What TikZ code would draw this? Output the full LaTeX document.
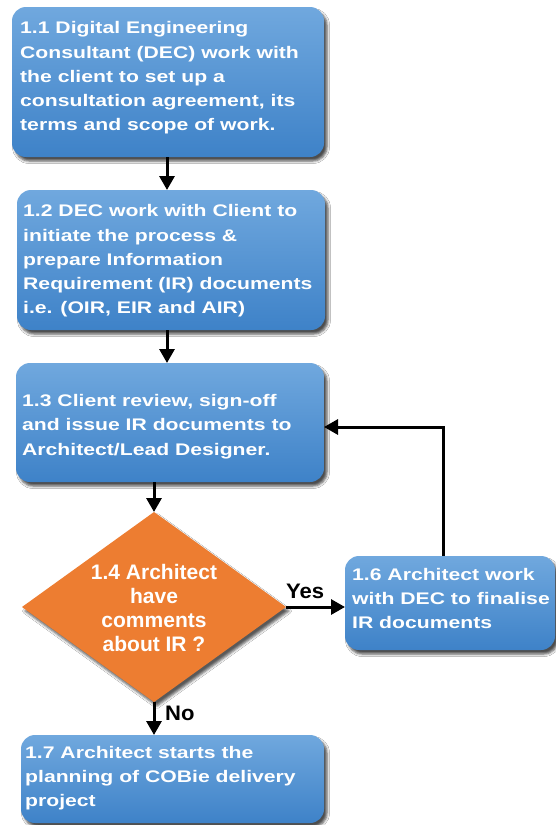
\documentclass[tikz,border=0pt]{standalone}
\usepackage{fontspec}
\usetikzlibrary{shapes.geometric,arrows.meta,shadows.blur}
\newfontfamily\boxfont{Liberation Sans}[FakeStretch=1.26]
\newfontfamily\plainfont{Liberation Sans}
\newfontfamily\labfont{Liberation Sans}[FakeStretch=1.05]
\definecolor{boxtop}{RGB}{112,168,222}
\definecolor{boxbot}{RGB}{62,130,200}
\definecolor{decorange}{RGB}{237,125,49}
\newcommand\leftstack[1]{\vtop{\halign{##\hfil\cr#1\crcr}}}
\newcommand\centerstack[1]{\vtop{\halign{\hfil##\hfil\cr#1\crcr}}}
\begin{document}
\begin{tikzpicture}[x=1pt,y=-1pt,
  procbox/.style={rectangle, rounded corners=14pt, inner sep=0pt, outer sep=0pt,
    top color=boxtop, bottom color=boxbot, draw=none,
    blur shadow={shadow xshift=3pt,shadow yshift=-4pt,shadow blur radius=2.5pt,shadow opacity=70}},
  decision/.style={diamond, inner sep=0pt, outer sep=0pt, fill=decorange, draw=none,
    blur shadow={shadow xshift=3pt,shadow yshift=-4pt,shadow blur radius=2.5pt,shadow opacity=65}},
  boxtext/.style={anchor=base west, inner sep=0pt, text=white,
    font={\boxfont\bfseries\fontsize{16.8}{24.3}\selectfont}},
  dtext/.style={anchor=base, inner sep=0pt, text=white,
    font={\plainfont\bfseries\fontsize{21}{24.3}\selectfont}},
  lab/.style={anchor=base west, inner sep=0pt, text=black,
    font={\labfont\bfseries\fontsize{21}{24}\selectfont}},
  flowarrow/.style={line width=3pt, -{Triangle[length=14pt,width=15pt]}}]
\useasboundingbox[fill=white] (0,0) rectangle (556,825);

% boxes
\node[procbox, minimum width=312pt, minimum height=150pt] (b11) at (168,82) {};
\node[procbox, minimum width=308pt, minimum height=140pt] (b12) at (171,260) {};
\node[procbox, minimum width=308pt, minimum height=119pt] (b13) at (170,422.5) {};
\node[decision, minimum width=264pt, minimum height=190pt] (d14) at (154,607) {};
\node[procbox, minimum width=210pt, minimum height=94pt] (b16) at (450,603) {};
\node[procbox, minimum width=303pt, minimum height=88pt] (b17) at (172.5,779) {};

% texts
\node[boxtext] (t11) at (20,33.7) {\leftstack{1.1 Digital Engineering\cr Consultant (DEC) work with\cr the client to set up a\cr consultation agreement, its\cr terms and scope of work.}};
\node[boxtext] (t12) at (23,216.7) {\leftstack{1.2 DEC work with Client to\cr initiate the process \&\cr prepare Information\cr Requirement (IR) documents\cr i.e. (OIR, EIR and AIR)}};
\node[boxtext] (t13) at (22,406.5) {\leftstack{1.3 Client review, sign-off\cr and issue IR documents to\cr Architect/Lead Designer.}};
\node[dtext] (t14) at (154,579) {\centerstack{1.4 Architect\cr have\cr comments\cr about IR ?}};
\node[boxtext] (t16) at (352,580) {\leftstack{1.6 Architect work\cr with DEC to finalise\cr IR documents}};
\node[boxtext] (t17) at (25,758) {\leftstack{1.7 Architect starts the\cr planning of COBie delivery\cr project}};

% connectors
\coordinate (c1) at (167,0);
\coordinate (ret) at (443,427);
\draw[flowarrow] (b11.south -| c1) -- (b12.north -| c1);
\draw[flowarrow] (b12.south -| c1) -- (b13.north -| c1);
\draw[flowarrow] (b13.south -| d14.north) -- (d14.north);
\draw[flowarrow] (d14.east) -- (d14.east -| b16.west);
\draw[flowarrow] (d14.south) -- (d14.south |- b17.north);
\draw[flowarrow] (b16.north -| ret) -- (ret) -- (ret -| b13.east);

% labels
\node[lab] (yes) at (286,598) {Yes};
\node[lab] (no) at (165,720) {No};
\end{tikzpicture}
\end{document}
